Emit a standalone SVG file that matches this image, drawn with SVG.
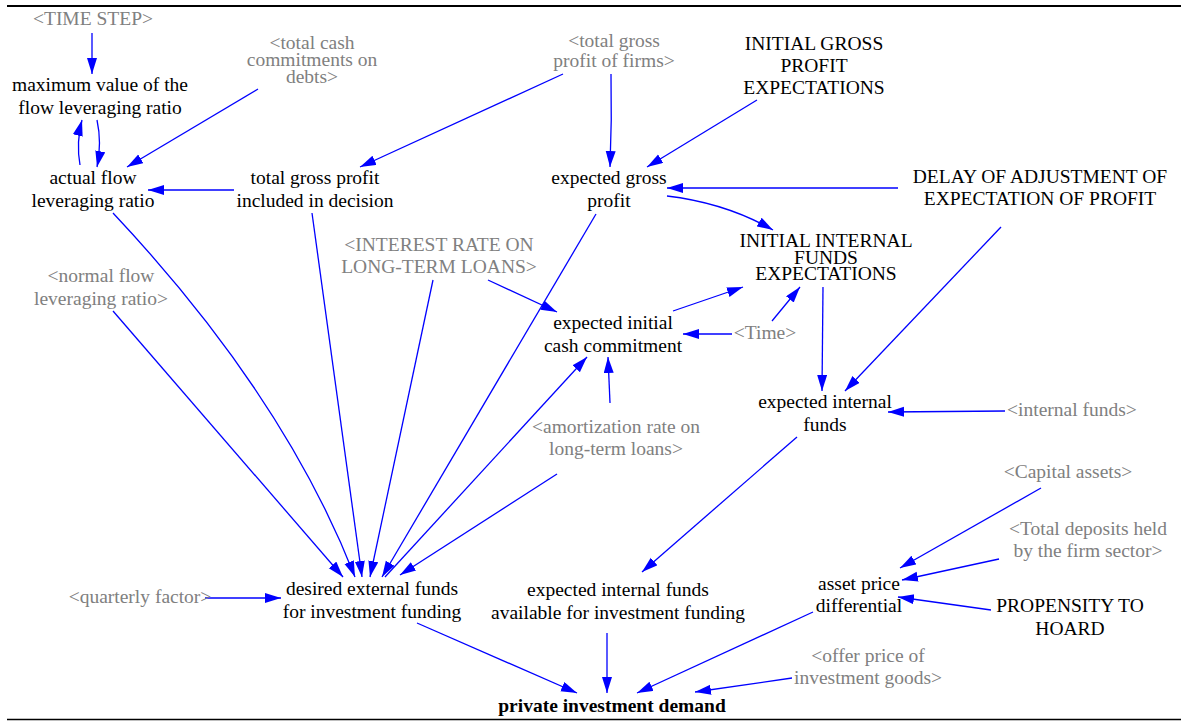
<svg xmlns="http://www.w3.org/2000/svg" width="1181" height="721" viewBox="0 0 1181 721">
<defs>
<marker id="ah" markerUnits="userSpaceOnUse" markerWidth="17" markerHeight="11" refX="16" refY="5" orient="auto"><path d="M0,0 L16,5 L0,10 z" fill="#0000FF"/></marker>
<style>
text{font-size:19.5px;text-anchor:middle;fill:#000}
.g{fill:#808080}
.b{font-weight:bold}
.c path{fill:none;stroke:#0000FF;stroke-width:1.3;marker-end:url(#ah)}
</style>
</defs>
<rect width="1181" height="721" fill="#fff"/>
<line x1="7" y1="6" x2="1181" y2="6" stroke="#000" stroke-width="2"/>
<line x1="7" y1="719.5" x2="1181" y2="719.5" stroke="#000" stroke-width="1.6"/>

<g class="c" id="connectors">
<path d="M92,33 L92,74"/>
<path d="M80,165 Q76,142 82,120"/>
<path d="M97,120 Q102,143 97,167"/>
<path d="M258,89 L127,167"/>
<path d="M234,190 L148,190"/>
<path d="M563,74 L360,167"/>
<path d="M611,74 Q612,120 610,167"/>
<path d="M757,100 L647,167"/>
<path d="M898,188 L667,188"/>
<path d="M667,196 Q726,203 773,230"/>
<path d="M1001,227 L845,391"/>
<path d="M823,287 L822,391"/>
<path d="M1005,411 L888,412"/>
<path d="M673,311 L743,287"/>
<path d="M772,321 L800,287"/>
<path d="M732,334 L683,334"/>
<path d="M488,280 L557,312"/>
<path d="M610,403 L608,357"/>
<path d="M385,577 L587,357"/>
<path d="M113,311 L343,577"/>
<path d="M113,213 Q284,395 355,577"/>
<path d="M312,213 L362,577"/>
<path d="M433,280 L370,577"/>
<path d="M596,214 L382,577"/>
<path d="M557,474 L400,575"/>
<path d="M205,598 L281,598"/>
<path d="M417,623 L577,693"/>
<path d="M607,633 L607,693"/>
<path d="M797,437 L642,572"/>
<path d="M813,612 L637,693"/>
<path d="M792,678 L695,692"/>
<path d="M1041,488 L900,568"/>
<path d="M999,559 L902,580"/>
<path d="M991,610 L898,597"/>
</g>

<g font-family="Liberation Serif, serif">
<g id="time-step"><text class="g" x="93" y="25">&lt;TIME STEP&gt;</text></g>
<g id="max-flow-leveraging"><text x="100" y="91">maximum value of the</text><text x="100" y="114">flow leveraging ratio</text></g>
<g id="total-cash-commitments"><text class="g" x="312" y="49">&lt;total cash</text><text class="g" x="312" y="66">commitments on</text><text class="g" x="312" y="83">debts&gt;</text></g>
<g id="actual-flow-leveraging"><text x="93" y="184">actual flow</text><text x="93" y="207">leveraging ratio</text></g>
<g id="total-gross-profit-included"><text x="315" y="184">total gross profit</text><text x="315" y="207">included in decision</text></g>
<g id="total-gross-profit-firms"><text class="g" x="614" y="47">&lt;total gross</text><text class="g" x="614" y="67">profit of firms&gt;</text></g>
<g id="initial-gross-profit"><text x="814" y="50">INITIAL GROSS</text><text x="814" y="72">PROFIT</text><text x="814" y="94">EXPECTATIONS</text></g>
<g id="expected-gross-profit"><text x="609" y="184">expected gross</text><text x="609" y="207">profit</text></g>
<g id="delay-adjustment"><text x="1040" y="183">DELAY OF ADJUSTMENT OF</text><text x="1040" y="205">EXPECTATION OF PROFIT</text></g>
<g id="initial-internal-funds"><text x="826" y="247">INITIAL INTERNAL</text><text x="826" y="264">FUNDS</text><text x="826" y="280">EXPECTATIONS</text></g>
<g id="interest-rate"><text class="g" x="439" y="251">&lt;INTEREST RATE ON</text><text class="g" x="439" y="273">LONG-TERM LOANS&gt;</text></g>
<g id="normal-flow-leveraging"><text class="g" x="101" y="282">&lt;normal flow</text><text class="g" x="101" y="305">leveraging ratio&gt;</text></g>
<g id="expected-initial-cash"><text x="613" y="329">expected initial</text><text x="613" y="352">cash commitment</text></g>
<g id="time"><text class="g" x="765" y="339">&lt;Time&gt;</text></g>
<g id="expected-internal-funds"><text x="825" y="408">expected internal</text><text x="825" y="431">funds</text></g>
<g id="internal-funds"><text class="g" x="1072" y="416">&lt;internal funds&gt;</text></g>
<g id="amortization-rate"><text class="g" x="616" y="433">&lt;amortization rate on</text><text class="g" x="616" y="455">long-term loans&gt;</text></g>
<g id="capital-assets"><text class="g" x="1068" y="478">&lt;Capital assets&gt;</text></g>
<g id="total-deposits"><text class="g" x="1088" y="535">&lt;Total deposits held</text><text class="g" x="1088" y="557">by the firm sector&gt;</text></g>
<g id="asset-price-differential"><text x="859" y="590">asset price</text><text x="859" y="612">differential</text></g>
<g id="propensity-to-hoard"><text x="1070" y="612">PROPENSITY TO</text><text x="1070" y="635">HOARD</text></g>
<g id="quarterly-factor"><text class="g" x="140" y="603">&lt;quarterly factor&gt;</text></g>
<g id="desired-external-funds"><text x="372" y="595">desired external funds</text><text x="372" y="618">for investment funding</text></g>
<g id="expected-internal-available"><text x="618" y="596">expected internal funds</text><text x="618" y="619">available for investment funding</text></g>
<g id="offer-price"><text class="g" x="868" y="662">&lt;offer price of</text><text class="g" x="868" y="684">investment goods&gt;</text></g>
<g id="private-investment-demand"><text class="b" x="612" y="712">private investment demand</text></g>
</g>
</svg>
